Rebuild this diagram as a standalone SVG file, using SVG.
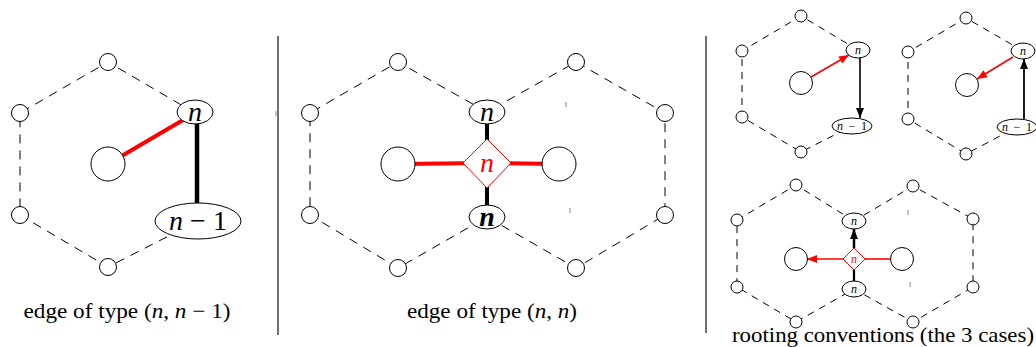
<svg xmlns="http://www.w3.org/2000/svg" width="1036" height="347" viewBox="0 0 1036 347">
<style>
.d{stroke:#000;stroke-width:1;stroke-dasharray:9 7;fill:none}
.ds{stroke:#000;stroke-width:1;stroke-dasharray:7 6;fill:none}
.c{fill:#fff;stroke:#000;stroke-width:1}
.t{font-family:"Liberation Serif","Times New Roman",serif;fill:#000}
.i{font-style:italic}
.sep{stroke:#222;stroke-width:1.3}
</style>
<defs>
<marker id="ar" viewBox="0 0 10 8" refX="10" refY="4" markerWidth="11" markerHeight="8" markerUnits="userSpaceOnUse" orient="auto"><path d="M0,0 L10,4 L0,8 z" fill="#f00"/></marker>
<marker id="ak" viewBox="0 0 10 8" refX="10" refY="4" markerWidth="11" markerHeight="8" markerUnits="userSpaceOnUse" orient="auto"><path d="M0,0 L10,4 L0,8 z" fill="#000"/></marker>
</defs>

<g id="separators">
<line class="sep" x1="278" y1="36" x2="278" y2="335"/>
<line class="sep" x1="706" y1="36" x2="706" y2="333"/>
<line stroke="#888" stroke-width="1" x1="276" y1="111" x2="276" y2="116"/>
<line stroke="#888" stroke-width="1" x1="566" y1="102" x2="566" y2="107"/>
<line stroke="#888" stroke-width="1" x1="570" y1="208" x2="570" y2="213"/>
<line stroke="#888" stroke-width="1" x1="908" y1="210" x2="908" y2="215"/>
<line stroke="#888" stroke-width="1" x1="910" y1="282" x2="910" y2="287"/>
</g>

<g id="connectors">
<!-- panel 1 -->
<path class="d" d="M195,113 L108,62 L20,113 L20,215 L108,267 L198,221"/>
<line x1="108" y1="164" x2="195" y2="113" stroke="#f00" stroke-width="4"/>
<line x1="197" y1="113" x2="197" y2="221" stroke="#000" stroke-width="4.5"/>
<!-- panel 2 -->
<path class="d" d="M487,112 L398,62 L310,113 L310,215 L398,268 L487,217 L576,268 L665,215 L665,113 L576,62 L487,112"/>
<line x1="398" y1="164" x2="487" y2="163" stroke="#f00" stroke-width="4"/>
<line x1="487" y1="163" x2="559" y2="164" stroke="#f00" stroke-width="4"/>
<line x1="487" y1="112" x2="487" y2="217" stroke="#000" stroke-width="4"/>
<!-- panel 3 top-left -->
<path class="ds" d="M858,50 L801,16 L742,51 L742,117 L801,152 L852,126"/>
<line x1="811" y1="77" x2="849" y2="55" stroke="#f00" stroke-width="1.6" marker-end="url(#ar)"/>
<line x1="860" y1="58" x2="860" y2="118" stroke="#000" stroke-width="1.6" marker-end="url(#ak)"/>
<!-- panel 3 top-right -->
<path class="ds" d="M1023,51 L966,18 L908,52 L908,119 L966,154 L1017,127"/>
<line x1="1013" y1="57" x2="977" y2="79" stroke="#f00" stroke-width="1.6" marker-end="url(#ar)"/>
<line x1="1024" y1="119" x2="1024" y2="59" stroke="#000" stroke-width="1.8" marker-end="url(#ak)"/>
<!-- panel 3 bottom -->
<path class="ds" d="M854,221 L796,185 L737,220 L737,287 L796,322 L854,289 L913,322 L973,287 L973,219 L913,186 L854,221"/>
<line x1="843" y1="259" x2="807" y2="259" stroke="#f00" stroke-width="1.6" marker-end="url(#ar)"/>
<line x1="865" y1="259" x2="891" y2="259" stroke="#f00" stroke-width="1.6"/>
<line x1="854" y1="248" x2="854" y2="229" stroke="#000" stroke-width="2.5" marker-end="url(#ak)"/>
<line x1="854" y1="270" x2="854" y2="282" stroke="#000" stroke-width="2.2"/>
</g>

<g id="p1-nodes">
<circle class="c" cx="108" cy="62" r="8.5"/>
<circle class="c" cx="20" cy="113" r="8.5"/>
<circle class="c" cx="20" cy="215" r="8.5"/>
<circle class="c" cx="108" cy="267" r="8.5"/>
<circle class="c" cx="108" cy="164" r="17"/>
<g id="p1-n"><ellipse class="c" cx="195" cy="112" rx="18" ry="12"/><text class="t i" x="195" y="121" font-size="28" text-anchor="middle">n</text></g>
<g id="p1-n1"><ellipse class="c" cx="198" cy="221" rx="43" ry="18"/><text class="t" x="198" y="230" font-size="28" text-anchor="middle"><tspan class="i">n</tspan> − 1</text></g>
</g>

<g id="p2-nodes">
<circle class="c" cx="398" cy="62" r="8.5"/>
<circle class="c" cx="310" cy="113" r="8.5"/>
<circle class="c" cx="310" cy="215" r="8.5"/>
<circle class="c" cx="398" cy="268" r="8.5"/>
<circle class="c" cx="576" cy="62" r="8.5"/>
<circle class="c" cx="665" cy="113" r="8.5"/>
<circle class="c" cx="665" cy="215" r="8.5"/>
<circle class="c" cx="576" cy="268" r="8.5"/>
<circle class="c" cx="398" cy="164" r="17"/>
<circle class="c" cx="559" cy="164" r="17"/>
<g id="p2-ntop"><ellipse class="c" cx="487" cy="112" rx="18" ry="12"/><text class="t i" x="487" y="121" font-size="28" text-anchor="middle">n</text></g>
<g id="p2-nbot"><ellipse class="c" cx="487" cy="217" rx="18" ry="12"/><text class="t i" x="487" y="226" font-size="28" font-weight="bold" text-anchor="middle">n</text></g>
<g id="p2-diamond"><path d="M487,139 L511,163 L487,188 L463,163 z" fill="#fff" stroke="#f00" stroke-width="1"/><text class="t i" x="487" y="172" font-size="28" style="fill:#f00" text-anchor="middle">n</text></g>
</g>

<g id="p3a-nodes">
<circle class="c" cx="801" cy="16" r="6"/>
<circle class="c" cx="742" cy="51" r="6"/>
<circle class="c" cx="742" cy="117" r="6"/>
<circle class="c" cx="801" cy="152" r="6"/>
<circle class="c" cx="801" cy="83" r="11.5"/>
<g><ellipse class="c" cx="858" cy="50" rx="12" ry="8"/><text class="t i" x="858" y="54" font-size="12" text-anchor="middle">n</text></g>
<g><ellipse class="c" cx="852" cy="126" rx="20" ry="8"/><text class="t" x="852" y="130" font-size="12" text-anchor="middle" textLength="30" lengthAdjust="spacing"><tspan class="i">n</tspan> − 1</text></g>
</g>

<g id="p3b-nodes">
<circle class="c" cx="966" cy="18" r="6"/>
<circle class="c" cx="908" cy="52" r="6"/>
<circle class="c" cx="908" cy="119" r="6"/>
<circle class="c" cx="966" cy="154" r="6"/>
<circle class="c" cx="967" cy="85" r="11.5"/>
<g><ellipse class="c" cx="1023" cy="51" rx="12" ry="8"/><text class="t i" x="1023" y="55" font-size="12" text-anchor="middle">n</text></g>
<g><ellipse class="c" cx="1017" cy="127" rx="20" ry="8"/><text class="t" x="1017" y="131" font-size="12" text-anchor="middle" textLength="30" lengthAdjust="spacing"><tspan class="i">n</tspan> − 1</text></g>
</g>

<g id="p3c-nodes">
<circle class="c" cx="796" cy="185" r="6"/>
<circle class="c" cx="737" cy="220" r="6"/>
<circle class="c" cx="737" cy="287" r="6"/>
<circle class="c" cx="796" cy="322" r="6"/>
<circle class="c" cx="913" cy="186" r="6"/>
<circle class="c" cx="973" cy="219" r="6"/>
<circle class="c" cx="973" cy="287" r="6"/>
<circle class="c" cx="913" cy="322" r="6"/>
<circle class="c" cx="796" cy="259" r="11.5"/>
<circle class="c" cx="902" cy="259" r="11.5"/>
<g><ellipse class="c" cx="854" cy="221" rx="12" ry="8"/><text class="t i" x="854" y="225" font-size="12" text-anchor="middle">n</text></g>
<g><ellipse class="c" cx="854" cy="289" rx="12" ry="8"/><text class="t i" x="854" y="293" font-size="12" text-anchor="middle">n</text></g>
<g><path d="M854,248 L865,259 L854,270 L843,259 z" fill="#fff" stroke="#f00" stroke-width="1"/><text class="t i" x="854" y="263" font-size="12" style="fill:#f00" text-anchor="middle">n</text></g>
</g>

<g id="captions">
<text class="t" x="127" y="318" font-size="21" text-anchor="middle" textLength="207" lengthAdjust="spacingAndGlyphs">edge of type (<tspan class="i">n</tspan>, <tspan class="i">n</tspan> − 1)</text>
<text class="t" x="492" y="318" font-size="21" text-anchor="middle" textLength="170" lengthAdjust="spacingAndGlyphs">edge of type (<tspan class="i">n</tspan>, <tspan class="i">n</tspan>)</text>
<text class="t" x="732" y="342" font-size="21" textLength="302" lengthAdjust="spacingAndGlyphs">rooting conventions (the 3 cases)</text>
</g>
</svg>
